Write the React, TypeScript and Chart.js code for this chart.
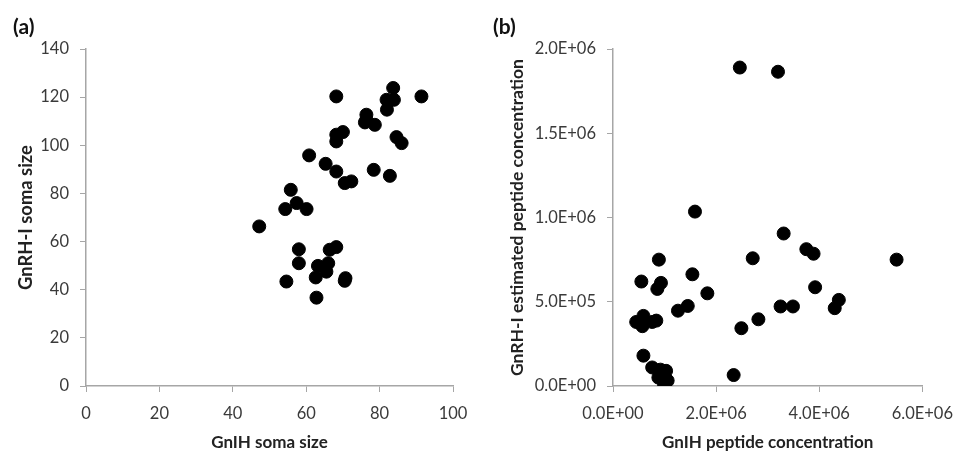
import React, { useEffect, useRef } from "react";
import { Chart, registerables } from "chart.js";

Chart.register(...registerables);

// Panel (a): soma sizes
const somaGnIH = [68.2, 91.4, 83.7, 81.9, 83.9, 82.0, 76.4, 76.4, 76.0, 78.7, 68.2, 70.0, 68.2, 84.6, 86.0, 60.8, 65.3, 68.2, 78.4, 82.8, 70.5, 72.3, 55.8, 57.4, 54.3, 60.1, 47.2, 58.0, 68.2, 66.4, 58.0, 63.2, 66.0, 65.5, 62.6, 54.6, 70.7, 70.5, 62.8];
const somaGnRH = [120.3, 120.3, 123.8, 118.9, 118.9, 114.8, 112.7, 110.6, 109.5, 108.5, 104.4, 105.5, 101.6, 103.4, 100.9, 95.8, 92.3, 89.1, 89.8, 87.3, 84.3, 85.0, 81.5, 76.0, 73.5, 73.5, 66.3, 56.8, 57.7, 56.6, 51.0, 49.9, 51.0, 47.5, 45.1, 43.4, 44.8, 43.7, 36.7];

// Panel (b): peptide concentrations
const peptideGnIH = [2.46e6, 3.2e6, 1.59e6, 3.31e6, 3.75e6, 3.89e6, 2.71e6, 5.5e6, 0.89e6, 1.54e6, 0.55e6, 0.93e6, 0.86e6, 3.92e6, 1.83e6, 4.38e6, 4.3e6, 1.26e6, 1.45e6, 3.25e6, 3.49e6, 2.82e6, 2.49e6, 0.45e6, 0.59e6, 0.57e6, 0.76e6, 0.84e6, 0.59e6, 0.76e6, 0.92e6, 1.03e6, 0.88e6, 1.06e6, 0.99e6, 2.34e6];
const peptideGnRH = [18.9e5, 18.65e5, 10.35e5, 9.05e5, 8.12e5, 7.85e5, 7.58e5, 7.5e5, 7.5e5, 6.63e5, 6.2e5, 6.12e5, 5.76e5, 5.86e5, 5.5e5, 5.11e5, 4.62e5, 4.47e5, 4.75e5, 4.72e5, 4.72e5, 3.96e5, 3.43e5, 3.8e5, 4.16e5, 3.55e5, 3.8e5, 3.88e5, 1.8e5, 1.1e5, 0.97e5, 0.9e5, 0.5e5, 0.32e5, 0.1e5, 0.65e5];

const FONT = "Lato, 'Open Sans', sans-serif";
const AXIS_GRAY = "#a6a6a6";

function sci(v: number) {
  const [m, e] = Number(v).toExponential(1).split("e");
  const sign = e[0] === "-" ? "-" : "+";
  const digits = e.replace(/[+-]/, "").padStart(2, "0");
  return `${m}E${sign}${digits}`;
}

type PanelProps = {
  width: number;
  label: string;
  xs: number[];
  ys: number[];
  xMax: number;
  xStep: number;
  yMax: number;
  yStep: number;
  xTitle: string;
  yTitle: string;
  yTitleSize: number;
  yAxisWidth: number;
  rightPad: number;
  yTitlePad: number;
  useSci: boolean;
};

function Panel(p: PanelProps) {
  const ref = useRef<HTMLCanvasElement | null>(null);
  useEffect(() => {
    if (!ref.current) return;
    const labelPlugin = {
      id: "panelLabel",
      afterDraw(chart: any) {
        const ctx = chart.ctx;
        ctx.save();
        ctx.font = `bold 21px ${FONT}`;
        ctx.fillStyle = "#111";
        ctx.textBaseline = "middle";
        ctx.textAlign = "left";
        ctx.fillText(p.label, 13, 27);
        ctx.restore();
      },
    };
    const fmt = (v: any) => (p.useSci ? sci(Number(v)) : String(v));
    const chart = new Chart(ref.current, {
      type: "scatter",
      data: {
        datasets: [
          {
            data: p.xs.map((x, i) => ({ x, y: p.ys[i] })),
            backgroundColor: "#000",
            borderColor: "#000",
            pointRadius: 6.5,
            pointHoverRadius: 6.5,
          },
        ],
      },
      options: {
        animation: false,
        responsive: false,
        layout: { padding: { top: 49, right: p.rightPad, left: 0, bottom: 0 } },
        plugins: { legend: { display: false }, tooltip: { enabled: false } },
        scales: {
          x: {
            type: "linear",
            min: 0,
            max: p.xMax,
            afterFit: (s: any) => {
              s.height = 70;
            },
            ticks: {
              stepSize: p.xStep,
              color: "#3a3a3a",
              font: { family: FONT, size: 16.5 },
              padding: 12,
              callback: fmt,
              maxRotation: 0,
            },
            grid: {
              display: true,
              drawOnChartArea: false,
              drawTicks: true,
              tickLength: 6,
              color: AXIS_GRAY,
            },
            border: { display: true, color: AXIS_GRAY, width: 1.5 },
            title: {
              display: true,
              text: p.xTitle,
              color: "#222",
              font: { family: FONT, size: 17, weight: "bold" },
              padding: { top: 3, bottom: 3 },
            },
          },
          y: {
            type: "linear",
            min: 0,
            max: p.yMax,
            afterFit: (s: any) => {
              s.width = p.yAxisWidth;
            },
            ticks: {
              stepSize: p.yStep,
              color: "#3a3a3a",
              font: { family: FONT, size: 16.5 },
              padding: 11,
              callback: fmt,
            },
            grid: {
              display: true,
              drawOnChartArea: false,
              drawTicks: true,
              tickLength: 6,
              color: AXIS_GRAY,
            },
            border: { display: true, color: AXIS_GRAY, width: 1.5 },
            title: {
              display: true,
              text: p.yTitle,
              color: "#222",
              font: { family: FONT, size: p.yTitleSize, weight: "bold" },
              padding: { top: p.yTitlePad, bottom: p.yTitlePad },
            },
          },
        },
      } as any,
      plugins: [labelPlugin],
    });
    return () => chart.destroy();
  }, []);
  return <canvas ref={ref} width={p.width} height={456} style={{ display: "block" }} />;
}

export default function App() {
  return (
    <div style={{ position: "fixed", left: 0, top: 0, width: 965, height: 456, background: "#fff", display: "flex" }}>
      <Panel
        width={480}
        label="(a)"
        xs={somaGnIH}
        ys={somaGnRH}
        xMax={100}
        xStep={20}
        yMax={140}
        yStep={20}
        xTitle="GnIH soma size"
        yTitle="GnRH-I soma size"
        yTitleSize={18.4}
        yAxisWidth={86}
        rightPad={27}
        yTitlePad={15}
        useSci={false}
      />
      <Panel
        width={485}
        label="(b)"
        xs={peptideGnIH}
        ys={peptideGnRH}
        xMax={6e6}
        xStep={2e6}
        yMax={2e6}
        yStep={5e5}
        xTitle="GnIH peptide concentration"
        yTitle="GnRH-I estimated peptide concentration"
        yTitleSize={17.5}
        yAxisWidth={133}
        rightPad={34}
        yTitlePad={27}
        useSci={true}
      />
    </div>
  );
}
